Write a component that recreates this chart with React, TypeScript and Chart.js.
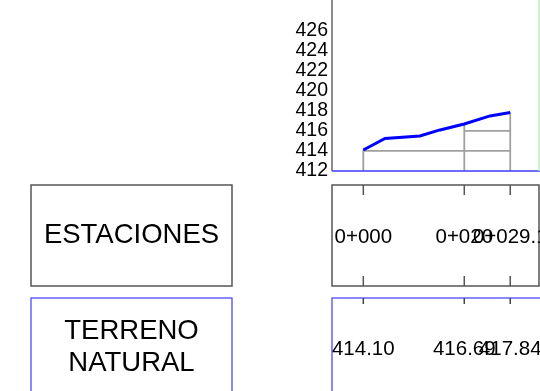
import React, { useEffect, useRef } from "react";
import { Chart, registerables } from "chart.js";

Chart.register(...registerables);

// ---- data ----
const STATIONS = [0, 20, 29.1];
const STATION_LABELS = ["0+000", "0+020", "0+029.1"];
const STATION_ELEV = [414.1, 416.69, 417.84];
const ELEV_LABELS = ["414.10", "416.69", "417.84"];
const PROFILE_X = [0, 4.3, 11.2, 15.2, 20, 25.1, 29.1];
const PROFILE_Y = [414.1, 415.25, 415.5, 416.1, 416.69, 417.5, 417.84];
const Y_TICKS = [412, 414, 416, 418, 420, 422, 424, 426];
const ROW_TITLES = [["ESTACIONES"], ["TERRENO", "NATURAL"]];

const FONT = '"Liberation Sans", Arial, sans-serif';

function line(ctx: CanvasRenderingContext2D, x1: number, y1: number, x2: number, y2: number) {
  ctx.beginPath();
  ctx.moveTo(x1, y1);
  ctx.lineTo(x2, y2);
  ctx.stroke();
}

const profilePlugin = {
  id: "profilePlugin",
  beforeDatasetsDraw(chart: any) {
    const { ctx, chartArea: a, scales } = chart;
    const x = scales.x, y = scales.y;
    ctx.save();
    ctx.strokeStyle = "#a0a0a0";
    ctx.lineWidth = 1.8;
    STATIONS.forEach((s, i) => {
      const px = x.getPixelForValue(s);
      line(ctx, px, a.bottom, px, y.getPixelForValue(STATION_ELEV[i]));
    });
    Y_TICKS.slice(1).forEach((lv) => {
      const idx = STATIONS.map((_, i) => i).filter((i) => STATION_ELEV[i] >= lv);
      if (idx.length < 2) return;
      const py = y.getPixelForValue(lv);
      line(ctx, x.getPixelForValue(STATIONS[idx[0]]), py, x.getPixelForValue(STATIONS[idx[idx.length - 1]]), py);
    });
    ctx.restore();
  },
  afterDraw(chart: any) {
    const { ctx, chartArea: a, scales } = chart;
    const x = scales.x;
    ctx.save();
    // axes frame
    ctx.strokeStyle = "#666";
    ctx.lineWidth = 1.5;
    line(ctx, a.left, 0, a.left, a.bottom);
    ctx.strokeStyle = "#3c3cff";
    ctx.lineWidth = 1.3;
    line(ctx, a.left, a.bottom, a.right + 1, a.bottom);
    ctx.strokeStyle = "#b5f5b5";
    ctx.lineWidth = 1.5;
    line(ctx, a.right, 0, a.right, a.bottom);

    // row 1: stations
    const r1t = 185, r1b = 286;
    ctx.strokeStyle = "#555";
    ctx.lineWidth = 1.5;
    ctx.strokeRect(31, r1t, 201, r1b - r1t);
    ctx.strokeRect(a.left, r1t, a.right - a.left, r1b - r1t);
    STATIONS.forEach((s) => {
      const px = x.getPixelForValue(s);
      line(ctx, px, r1t, px, r1t + 10);
      line(ctx, px, r1b - 10, px, r1b);
    });

    // row 2: ground
    const r2t = 298;
    ctx.strokeStyle = "#4a4aff";
    ctx.lineWidth = 1.3;
    ctx.strokeRect(31, r2t, 201, 130);
    ctx.strokeRect(a.left, r2t, 560 - a.left, 130);
    ctx.strokeStyle = "#444";
    ctx.lineWidth = 1.5;
    STATIONS.forEach((s) => {
      const px = x.getPixelForValue(s);
      line(ctx, px, r2t, px, r2t + 6);
    });

    // texts
    ctx.fillStyle = "#000";
    ctx.textAlign = "center";
    ctx.textBaseline = "middle";
    ctx.font = `27.5px ${FONT}`;
    ctx.fillText(ROW_TITLES[0][0], 131.5, 235.5);
    ctx.fillText(ROW_TITLES[1][0], 131.5, 331.7);
    ctx.fillText(ROW_TITLES[1][1], 131.5, 363.5);

    ctx.font = `20.5px ${FONT}`;
    STATIONS.forEach((s, i) => {
      const px = x.getPixelForValue(s);
      ctx.fillText(STATION_LABELS[i], px, 237.5);
      ctx.fillText(ELEV_LABELS[i], px, 349);
    });
    ctx.restore();
  },
};

export default function App() {
  const ref = useRef<HTMLCanvasElement | null>(null);
  useEffect(() => {
    if (!ref.current) return;
    const chart = new Chart(ref.current, {
      type: "line",
      data: {
        datasets: [
          {
            data: PROFILE_X.map((v, i) => ({ x: v, y: PROFILE_Y[i] })),
            borderColor: "#0000ff",
            borderWidth: 3,
            pointRadius: 0,
            tension: 0,
            fill: false,
          },
        ],
      },
      options: {
        responsive: false,
        animation: false,
        layout: { padding: { left: 0, right: 1, top: 0, bottom: 220 } },
        plugins: { legend: { display: false }, tooltip: { enabled: false } },
        scales: {
          x: { type: "linear", min: -6.2, max: 34.8, display: false },
          y: {
            type: "linear",
            min: 412,
            max: 429.07,
            afterFit: (s: any) => {
              s.width = 332;
              s.paddingTop = 0;
              s.paddingBottom = 0;
            },
            afterBuildTicks: (s: any) => {
              s.ticks = Y_TICKS.map((v) => ({ value: v }));
            },
            grid: { display: false, drawTicks: false },
            border: { display: false },
            ticks: {
              autoSkip: false,
              padding: 4,
              color: "#000",
              font: { family: FONT, size: 19.5 },
            },
          },
        },
      },
      plugins: [profilePlugin],
    } as any);
    return () => chart.destroy();
  }, []);
  return (
    <div style={{ position: "absolute", left: 0, top: 0, width: 540, height: 391 }}>
      <canvas ref={ref} width={540} height={391} style={{ display: "block" }} />
    </div>
  );
}
